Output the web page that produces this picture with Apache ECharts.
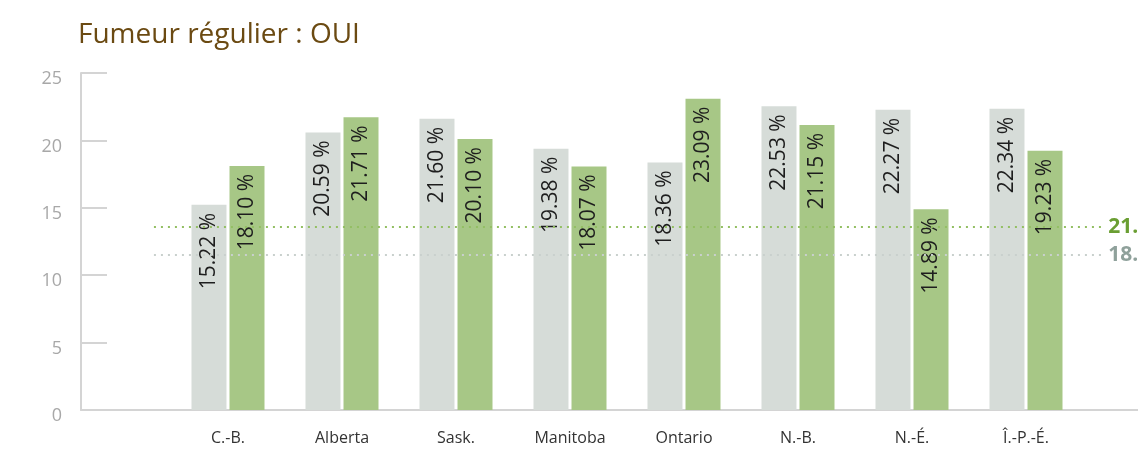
<!DOCTYPE html>
<html>
<head>
<meta charset="utf-8">
<script src="https://cdn.jsdelivr.net/npm/echarts@6/dist/echarts.min.js"></script>
<style>
  html, body { margin: 0; padding: 0; background: #fff; }
  #chart { width: 1138px; height: 453px; }
</style>
</head>
<body>
<div id="chart"></div>
<script>
// données
var provinces = ['C.-B.', 'Alberta', 'Sask.', 'Manitoba', 'Ontario', 'N.-B.', 'N.-É.', 'Î.-P.-É.'];
var grisValues = [15.22, 20.59, 21.60, 19.38, 18.36, 22.53, 22.27, 22.34];
var vertValues = [18.10, 21.71, 20.10, 18.07, 23.09, 21.15, 14.89, 19.23];
var yMin = 0, yMax = 25, yStep = 5;
// lignes pointillées (moyennes), libellés coupés au bord
var moyVert = 13.6, moyGris = 11.53;
var moyVertLabel = '21.4 %', moyGrisLabel = '18.6 %';

var axisGray = '#d4d4d4';
var font = 'Open Sans';

var barLabel = {
    show: true,
    position: 'insideTop',
    rotate: 90,
    align: 'right',
    verticalAlign: 'middle',
    distance: 8,
    color: '#1e1e1e',
    fontSize: 21,
    fontFamily: font,
    formatter: function (p) { return p.value.toFixed(2) + ' %'; }
};

function dotted(val, color, txt, txtColor) {
    return [
        { coord: [0.069, val], lineStyle: { color: color, width: 2, type: [2, 5] },
          label: { show: true, position: 'end', distance: 3, formatter: txt,
                   color: txtColor, fontWeight: 'bold', fontSize: 21, fontFamily: font } },
        { coord: [0.969, val] }
    ];
}

var chart = echarts.init(document.getElementById('chart'));
chart.setOption({
    animation: false,
    title: {
        text: 'Fumeur régulier : OUI',
        left: 73, top: 16,
        textStyle: { color: '#6b4a12', fontSize: 28, fontWeight: 'normal', fontFamily: font }
    },
    grid: [
        { left: 171, right: 55, top: 73, bottom: 43 },
        { left: 81, right: 0, top: 73, bottom: 43 }
    ],
    xAxis: [
        {
            type: 'category', gridIndex: 0, data: provinces,
            axisLine: { show: false }, axisTick: { show: false },
            axisLabel: { color: '#333', fontSize: 16, fontFamily: font, margin: 20 }
        },
        {
            type: 'value', gridIndex: 1, min: 0, max: 1,
            splitLine: { show: false }, axisTick: { show: false }, axisLabel: { show: false },
            axisLine: { show: true, lineStyle: { color: axisGray, width: 2 } }
        }
    ],
    yAxis: [
        {
            type: 'value', gridIndex: 0, min: yMin, max: yMax, interval: yStep, offset: 90,
            splitLine: { show: false },
            axisLine: { show: true, lineStyle: { color: axisGray, width: 2 } },
            axisTick: { show: true, inside: true, length: 26, lineStyle: { color: axisGray, width: 2 } },
            axisLabel: { color: '#a8a8a8', fontSize: 18, fontFamily: font, margin: 19,
                         verticalAlign: 'top', lineHeight: 12 }
        },
        {
            type: 'value', gridIndex: 1, min: yMin, max: yMax, show: false
        }
    ],
    series: [
        {
            type: 'bar', xAxisIndex: 0, yAxisIndex: 0, data: grisValues,
            barWidth: 35, barGap: '8.6%',
            itemStyle: { color: '#d6dcd8' }, label: barLabel
        },
        {
            type: 'bar', xAxisIndex: 0, yAxisIndex: 0, data: vertValues,
            barWidth: 35, barGap: '8.6%',
            itemStyle: { color: '#a7c786' }, label: barLabel
        },
        {
            type: 'line', xAxisIndex: 1, yAxisIndex: 1, data: [],
            silent: true,
            markLine: {
                symbol: 'none', silent: true,
                data: [
                    dotted(moyVert, '#93bf63', moyVertLabel, '#6a9e32'),
                    dotted(moyGris, '#c9d0cd', moyGrisLabel, '#8fa19b')
                ]
            }
        }
    ]
});
</script>
</body>
</html>
